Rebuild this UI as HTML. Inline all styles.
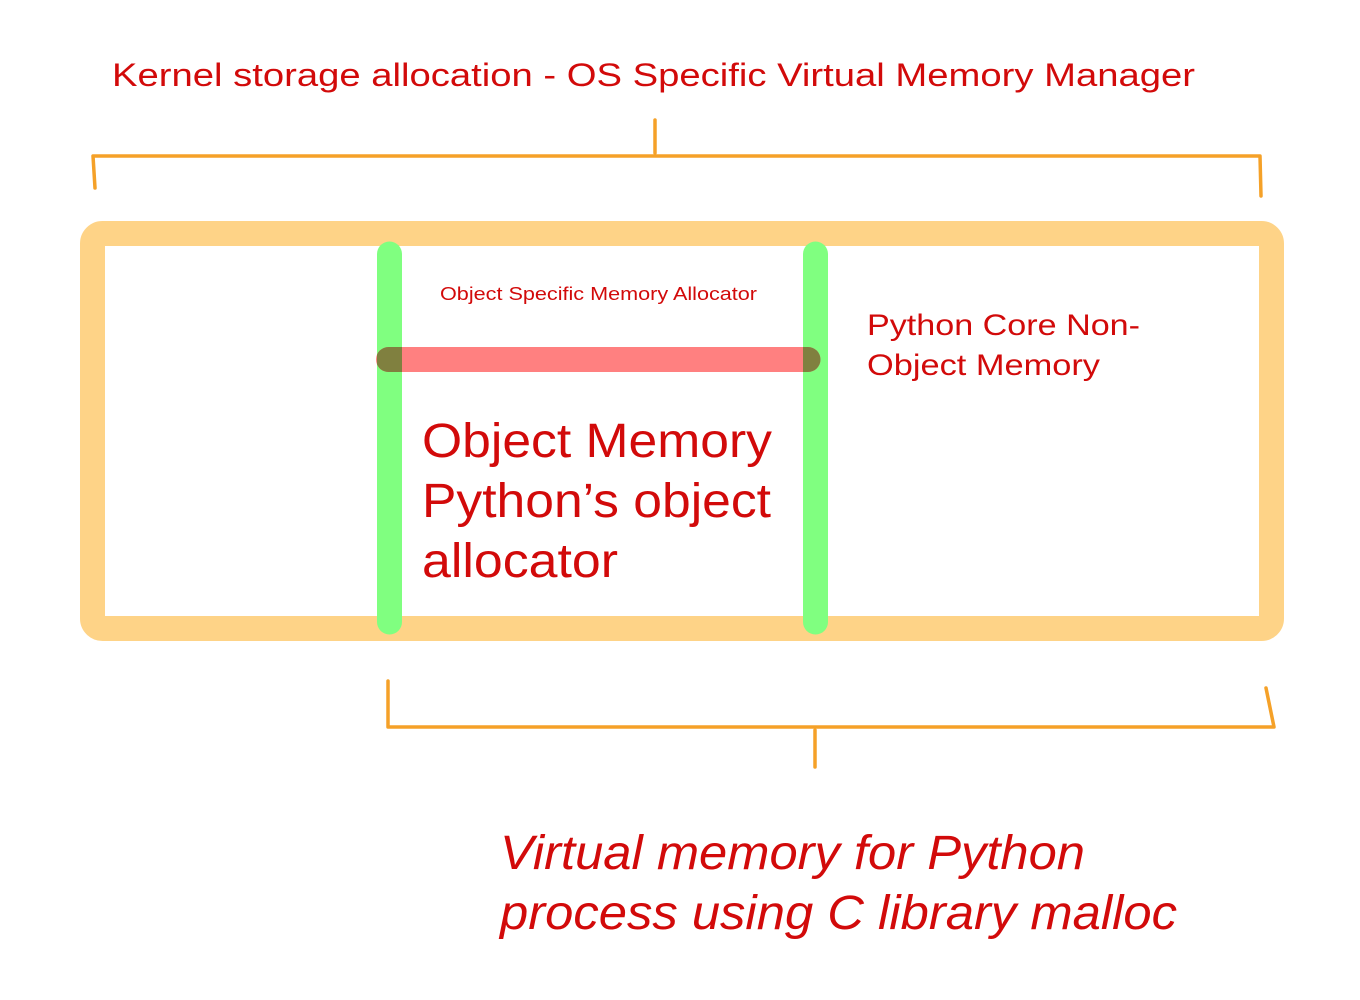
<!DOCTYPE html>
<html><head><meta charset="utf-8"><style>
html,body{margin:0;padding:0;background:#fff;}
svg{display:block}
text{font-family:"Liberation Sans",sans-serif;fill:#d20a0a}
</style></head><body>
<svg width="1360" height="1000" viewBox="0 0 1360 1000">
<defs>
<clipPath id="g"><rect x="377" y="240" width="25" height="400"/><rect x="803" y="240" width="25" height="400"/></clipPath>
</defs>
<text x="112" y="86" font-size="32" textLength="1083" lengthAdjust="spacingAndGlyphs">Kernel storage allocation - OS Specific Virtual Memory Manager</text>
<g stroke="#f5a128" stroke-width="3.5" fill="none" stroke-linecap="round" stroke-linejoin="round">
<polyline points="95,188 93,156 1260,156 1261,196"/>
<line x1="655" y1="120" x2="655" y2="153"/>
<polyline points="388,681 388,727 1274,727 1266,688"/>
<line x1="815" y1="730" x2="815" y2="767"/>
</g>
<rect x="92.5" y="233.5" width="1179" height="395" rx="10" fill="none" stroke="#fed387" stroke-width="25"/>
<line x1="389.5" y1="254" x2="389.5" y2="622" stroke="#80ff80" stroke-width="25" stroke-linecap="round"/>
<line x1="815.5" y1="254" x2="815.5" y2="622" stroke="#80ff80" stroke-width="25" stroke-linecap="round"/>
<line x1="388.5" y1="359.5" x2="808" y2="359.5" stroke="#ff8080" stroke-width="25" stroke-linecap="round"/>
<line x1="388.5" y1="359.5" x2="808" y2="359.5" stroke="#80803f" stroke-width="25" stroke-linecap="round" clip-path="url(#g)"/>
<text x="440" y="300" font-size="18" textLength="317" lengthAdjust="spacingAndGlyphs">Object Specific Memory Allocator</text>
<text x="867" y="335" font-size="30" textLength="273" lengthAdjust="spacingAndGlyphs">Python Core Non-</text>
<text x="867" y="375" font-size="30" textLength="233" lengthAdjust="spacingAndGlyphs">Object Memory</text>
<text x="422" y="457" font-size="48" textLength="350" lengthAdjust="spacingAndGlyphs">Object Memory</text>
<text x="422" y="517" font-size="48" textLength="349" lengthAdjust="spacingAndGlyphs">Python’s object</text>
<text x="422" y="577" font-size="48" textLength="196" lengthAdjust="spacingAndGlyphs">allocator</text>
<text x="500" y="869" font-size="48" font-style="italic" textLength="585" lengthAdjust="spacingAndGlyphs">Virtual memory for Python</text>
<text x="500" y="929" font-size="48" font-style="italic" textLength="677" lengthAdjust="spacingAndGlyphs">process using C library malloc</text>
</svg>
</body></html>
